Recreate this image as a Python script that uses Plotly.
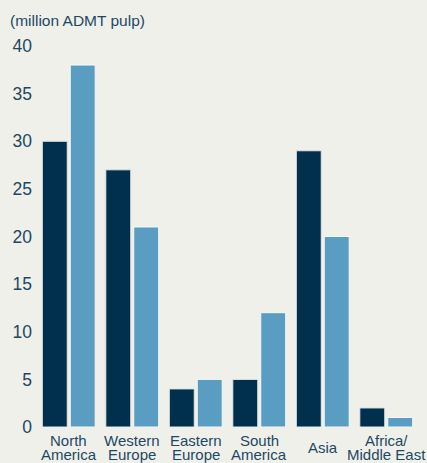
import plotly.graph_objects as go

# Pulp capacity by region (million ADMT)
regions = ["North<br>America", "Western<br>Europe", "Eastern<br>Europe",
           "South<br>America", "Asia", "Africa/<br>Middle East"]
series_a = [30, 27, 4, 5, 29, 2]
series_b = [38, 21, 5, 12, 20, 1]
y_ticks = [0, 5, 10, 15, 20, 25, 30, 35, 40]

DARK = "#00304D"
LIGHT = "#5A9DC2"
TEXT = "#1D4862"
BG = "#F0F0EB"
FONT = "Liberation Sans, Arial, sans-serif"

fig = go.Figure()
fig.add_trace(go.Bar(x=regions, y=series_a, marker=dict(color=DARK, line=dict(color="#E4E6E4", width=1))))
fig.add_trace(go.Bar(x=regions, y=series_b, marker=dict(color=LIGHT, line=dict(color="#F8F8F5", width=1))))

# Category labels drawn line by line for tighter line spacing
labels = []
for r in regions:
    lines = r.split("<br>")
    if len(lines) == 1:
        shifts = [-11]
    else:
        shifts = [-4, -18]
    for line, s in zip(lines, shifts):
        labels.append(dict(text=line, x=r, xref="x", y=0, yref="paper",
                           xanchor="center", yanchor="top", yshift=s,
                           showarrow=False, borderpad=0,
                           font=dict(size=15, color=TEXT, family=FONT)))

labels.append(dict(text="(million ADMT pulp)", xref="paper", yref="paper",
                   x=0, y=1, xanchor="left", yanchor="bottom",
                   xshift=-29, yshift=15, showarrow=False,
                   font=dict(size=15.5, color=TEXT, family=FONT)))

fig.update_layout(
    width=427, height=463,
    margin=dict(l=37, r=9, t=46, b=36),
    paper_bgcolor=BG, plot_bgcolor=BG,
    barmode="group", bargap=0.12, bargroupgap=0.107,
    showlegend=False,
    font=dict(family=FONT, color=TEXT),
    xaxis=dict(range=[-0.5, len(regions) - 0.5], showgrid=False, zeroline=False,
               showline=False, ticks="", showticklabels=False, automargin=False),
    yaxis=dict(range=[0, 40], tickvals=y_ticks, showgrid=False, zeroline=False,
               showline=False, ticks="", tickfont=dict(size=17.5, color=TEXT),
               ticklabelstandoff=4, automargin=False),
    annotations=labels,
)

fig.write_html("out.html")
